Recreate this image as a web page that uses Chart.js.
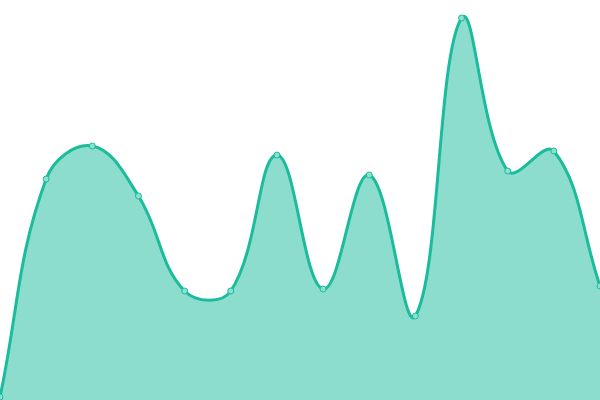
<!DOCTYPE html>
<html>
<head>
<meta charset="utf-8">
<script src="https://cdn.jsdelivr.net/npm/chart.js@4"></script>
<style>
  html, body { margin: 0; padding: 0; background: #fff; }
  #wrap { width: 600px; height: 400px; }
</style>
</head>
<body>
<div id="wrap"><canvas id="chart"></canvas></div>
<script>
const labels = ['1', '2', '3', '4', '5', '6', '7', '8', '9', '10', '11', '12', '13', '14'];
const values = [3, 221, 254, 204, 109, 109, 245, 111, 225, 84, 382, 229, 249, 114];

const ctx = document.getElementById('chart').getContext('2d');
new Chart(ctx, {
  type: 'line',
  data: {
    labels: labels,
    datasets: [{
      data: values,
      borderColor: '#1abc9c',
      backgroundColor: 'rgba(26, 188, 156, 0.5)',
      borderWidth: 3,
      fill: true,
      tension: 0.4,
      pointRadius: 3,
      pointBorderWidth: 1,
      pointBackgroundColor: 'rgba(140, 224, 207, 1)',
      pointBorderColor: '#1abc9c'
    }]
  },
  options: {
    responsive: true,
    maintainAspectRatio: false,
    animation: false,
    layout: { padding: 0, autoPadding: false },
    plugins: { legend: { display: false }, tooltip: { enabled: false } },
    scales: {
      x: { display: false, offset: false },
      y: { display: false, min: 0, max: 400 }
    }
  }
});
</script>
</body>
</html>
